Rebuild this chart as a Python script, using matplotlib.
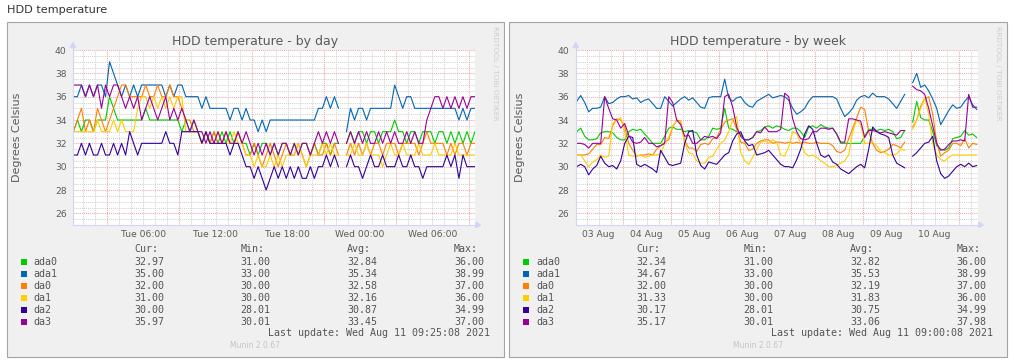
import matplotlib

matplotlib.use("Agg")
import matplotlib.pyplot as plt
import numpy as np
import pandas as pd
from matplotlib.lines import Line2D
from matplotlib.patches import Polygon, Rectangle

W, H = 1014, 364
nan = np.nan

DRIVES = ["ada0", "ada1", "da0", "da1", "da2", "da3"]
COLORS = ["#00cc00", "#0066b3", "#ff8000", "#ffcc00", "#330099", "#990099"]

# ---- by day: one sample every 20 minutes, Tue 00:12 -> Wed 09:32
DAY_TIMES = pd.date_range("2021-08-10 00:12", periods=101, freq="20min")
DAY_ADA0 = [33, 34, 33, 34, 34, 33, 34, 34, 34, 36,
            35, 34, 34, 34, 34, 34, 34, 34, 35, 34,
            34, 34, 34, 34, 34, 34, 34, 33, 34, 33,
            34, 33, 32, 33, 32, 33, 32, 33, 32, 33,
            32, 33, 32, 32, 31, 32, 31, 32, 32, 31,
            32, 31, 32, 32, 31, 32, 31, 32, 32, 31,
            32, 31, 32, 32, 31, 32, 32, nan, 32, 33,
            32, 33, 33, 32, 33, 33, 32, 33, 33, 33,
            34, 33, 33, 32, 33, 33, 32, 33, 33, 33,
            32, 33, 33, 32, 33, 32, 33, 32, 33, 32,
            33]
DAY_ADA1 = [36, 36, 37, 36, 37, 36, 37, 37, 36, 39,
            38, 37, 36, 37, 36, 37, 36, 37, 37, 37,
            37, 37, 37, 36, 37, 36, 37, 37, 36, 36,
            36, 36, 35, 36, 35, 35, 35, 35, 35, 34,
            35, 35, 34, 35, 34, 34, 33, 34, 33, 34,
            34, 34, 34, 34, 34, 34, 34, 34, 34, 34,
            34, 35, 35, 36, 35, 36, 35, nan, 33, 35,
            34, 35, 35, 34, 35, 35, 35, 35, 35, 35,
            37, 36, 35, 36, 36, 35, 35, 35, 35, 35,
            35, 35, 35, 35, 35, 35, 34, 35, 34, 35,
            35]
DAY_DA0 = [33, 34, 35, 33, 34, 33, 35, 34, 33, 34,
           35, 36, 37, 37, 36, 36, 36, 36, 37, 36,
           36, 37, 36, 36, 37, 36, 36, 35, 34, 34,
           33, 33, 32, 33, 32, 33, 32, 32, 33, 32,
           32, 33, 32, 31, 31, 32, 31, 30, 31, 32,
           31, 30, 31, 32, 31, 31, 32, 31, 30, 31,
           32, 31, 31, 32, 31, 32, 31, nan, 31, 32,
           31, 32, 31, 32, 31, 32, 32, 31, 32, 32,
           32, 31, 32, 32, 32, 32, 31, 32, 33, 32,
           32, 32, 32, 31, 32, 31, 32, 32, 31, 32,
           32]
DAY_DA1 = [33, 33, 33, 33, 33, 33, 34, 33, 33, 33,
           34, 33, 34, 33, 33, 33, 35, 36, 36, 35,
           36, 35, 36, 35, 36, 35, 36, 36, 33, 33,
           33, 33, 32, 33, 32, 32, 33, 32, 32, 32,
           33, 32, 32, 31, 31, 30, 31, 30, 30, 31,
           30, 31, 30, 31, 31, 31, 32, 31, 30, 31,
           31, 31, 32, 31, 32, 31, 31, nan, 31, 31,
           32, 31, 31, 32, 31, 31, 31, 30, 31, 32,
           31, 31, 32, 31, 31, 31, 32, 31, 31, 31,
           32, 31, 31, 31, 31, 32, 31, 31, 31, 31,
           31]
DAY_DA2 = [31, 31, 32, 31, 32, 31, 31, 32, 31, 31,
           32, 31, 32, 31, 33, 32, 31, 32, 32, 32,
           32, 32, 32, 33, 32, 32, 31, 33, 33, 33,
           33, 33, 32, 33, 32, 32, 32, 32, 32, 31,
           32, 32, 31, 30, 30, 29, 30, 29, 28, 29,
           30, 29, 30, 29, 30, 29, 30, 29, 29, 30,
           29, 30, 30, 31, 30, 31, 30, nan, 30, 31,
           30, 30, 29, 30, 31, 30, 30, 31, 30, 30,
           30, 31, 30, 30, 31, 30, 30, 29, 30, 30,
           30, 30, 30, 31, 30, 31, 29, 31, 30, 30,
           30]
DAY_DA3 = [37, 37, 37, 36, 37, 36, 37, 35, 37, 36,
           37, 37, 36, 35, 36, 35, 36, 34, 35, 36,
           35, 34, 35, 36, 34, 35, 34, 35, 34, 33,
           34, 33, 33, 32, 33, 32, 33, 32, 33, 32,
           32, 33, 32, 33, 32, 31, 32, 31, 32, 31,
           32, 31, 32, 32, 31, 32, 31, 32, 32, 31,
           32, 33, 32, 33, 32, 33, 32, nan, 32, 33,
           32, 33, 32, 33, 32, 32, 33, 32, 33, 32,
           33, 32, 32, 33, 32, 33, 32, 32, 34, 35,
           36, 36, 35, 36, 35, 36, 35, 36, 35, 36,
           36]

# ---- by week: one sample every 2 hours, 03 Aug 01:00 -> 11 Aug 09:00
WEEK_TIMES = pd.date_range("2021-08-03 01:00", periods=101, freq="2h")
WEEK_ADA0 = [33.0, 33.3, 32.6, 32.3, 32.3, 32.4, 32.9, 33.0, 33.0, 32.9,
             32.5, 32.3, 32.3, 33.0, 33.2, 33.1, 33.2, 32.8, 32.4, 32.0,
             32.0, 32.0, 32.6, 33.3, 33.4, 33.2, 33.2, 33.0, 33.1, 33.0,
             32.9, 32.3, 32.3, 32.6, 33.3, 33.2, 33.3, 35.0, 33.3, 33.2,
             33.0, 32.8, 32.3, 32.3, 32.5, 33.0, 33.1, 33.4, 33.5, 33.3,
             33.5, 33.4, 33.2, 33.1, 33.3, 33.3, 33.0, 32.5, 33.4, 33.5,
             33.3, 33.6, 33.4, 33.3, 33.3, 32.8, 32.0, 32.0, 32.0, 32.0,
             32.0, 32.0, 32.6, 33.2, 33.2, 33.1, 33.2, 33.1, 33.2, 33.0,
             32.4, 32.5, 33.1, nan, 33.8, 35.6, 34.2, 34.0, 34.0, 33.0,
             31.8, 31.5, 31.4, 31.6, 32.4, 32.5, 32.6, 33.1, 32.7, 32.8,
             32.5]
WEEK_ADA1 = [35.6, 36.1, 35.5, 34.7, 35.0, 35.0, 35.1, 36.0, 35.4, 35.5,
             35.8, 36.0, 36.0, 36.1, 35.8, 35.9, 35.5, 35.7, 35.8, 35.4,
             35.0, 35.0, 36.0, 35.6, 35.2, 35.5, 35.8, 36.0, 35.7, 35.9,
             35.5, 35.1, 35.0, 35.9, 36.0, 36.0, 36.0, 37.5, 35.9, 35.6,
             35.9, 36.0, 35.5, 35.2, 35.1, 35.6, 35.8, 36.0, 36.2, 35.9,
             36.0, 36.1, 36.0, 35.7, 35.0, 34.5, 34.7, 35.0, 35.6, 36.0,
             36.0, 36.0, 36.0, 36.0, 36.0, 35.8, 35.0, 34.3, 34.6, 35.0,
             35.7, 36.0, 36.1, 35.9, 36.3, 36.0, 36.0, 36.0, 35.8, 35.4,
             35.0, 35.6, 36.2, nan, 37.2, 38.0, 36.8, 37.0, 36.5, 35.8,
             35.0, 33.6, 34.2, 34.8, 35.3, 35.0, 35.1, 35.6, 36.0, 35.3,
             34.9]
WEEK_DA0 = [31.0, 31.0, 31.0, 31.1, 31.5, 31.9, 31.9, 32.5, 32.4, 33.5,
            34.1, 34.0, 33.4, 32.0, 31.4, 30.9, 31.0, 31.0, 31.1, 31.0,
            31.5, 31.8, 32.1, 32.3, 33.4, 34.0, 33.9, 32.2, 31.6, 31.6,
            31.3, 31.9, 32.0, 31.9, 32.4, 32.5, 33.2, 33.8, 34.0, 34.1,
            33.2, 32.1, 32.0, 31.4, 31.5, 32.0, 32.2, 32.3, 32.3, 32.0,
            32.1, 32.1, 32.0, 32.1, 32.0, 32.1, 32.0, 32.1, 32.0, 32.0,
            32.1, 32.0, 32.0, 32.0, 31.8, 31.3, 31.2, 31.4, 32.4, 33.3,
            34.2, 35.1, 34.9, 33.0, 32.0, 31.4, 31.2, 31.3, 31.5, 31.9,
            31.8, 31.6, 32.1, nan, 33.4, 34.0, 35.2, 35.8, 36.0, 34.5,
            32.1, 30.9, 31.2, 31.4, 32.0, 32.0, 31.8, 32.4, 31.6, 32.0,
            31.9]
WEEK_DA1 = [31.0, 31.0, 30.5, 30.0, 30.4, 30.6, 31.0, 30.8, 30.9, 33.7,
            34.0, 34.2, 33.0, 31.0, 30.9, 30.9, 31.0, 30.8, 30.9, 31.0,
            31.0, 31.1, 32.0, 32.5, 33.5, 33.9, 33.8, 32.0, 31.2, 31.1,
            30.5, 30.3, 30.3, 30.8, 30.9, 31.5, 32.0, 32.3, 33.0, 34.0,
            34.3, 31.2, 30.5, 30.2, 30.8, 31.5, 32.1, 32.2, 32.0, 32.3,
            32.1, 31.0, 30.9, 31.7, 33.0, 32.8, 32.0, 31.2, 30.9, 31.0,
            30.8, 30.5, 30.3, 30.0, 30.0, 30.1, 30.3, 30.5, 31.0, 33.0,
            34.0, 33.6, 32.0, 32.0, 32.1, 31.8, 31.3, 31.2, 31.0, 31.0,
            31.1, 31.5, 31.4, nan, 33.2, 34.0, 35.0, 35.9, 34.5, 32.0,
            31.0, 30.6, 30.5, 30.8, 31.0, 31.0, 31.0, 31.0, 31.0, 31.0,
            31.0]
WEEK_DA2 = [30.0, 30.2, 30.0, 29.3, 29.8, 30.1, 30.9, 30.3, 30.0, 30.1,
            29.8, 30.5, 32.0, 32.6, 32.5, 30.2, 30.0, 30.2, 30.0, 29.8,
            29.5, 31.4, 30.8, 30.2, 30.1, 30.2, 30.3, 32.0, 33.0, 33.1,
            31.0, 30.1, 29.8, 30.4, 30.3, 30.2, 30.6, 31.0, 31.2, 32.2,
            32.8, 33.0, 32.2, 31.8, 31.9, 31.0, 31.1, 31.2, 31.4, 31.0,
            30.6, 30.2, 30.0, 30.0, 29.9, 30.6, 31.5, 32.8, 33.5, 33.2,
            32.0, 31.0, 30.8, 31.0, 30.4, 30.2, 29.8, 29.6, 29.4, 29.7,
            30.0, 30.2, 29.9, 31.5, 33.4, 33.0, 32.8, 32.7, 32.5, 31.0,
            30.3, 30.1, 29.9, nan, 30.9, 31.2, 31.6, 32.0, 32.1, 32.6,
            30.5, 29.4, 29.0, 29.2, 29.6, 30.0, 30.2, 30.0, 30.3, 30.0,
            30.1]
WEEK_DA3 = [32.0, 32.0, 31.9, 31.6, 32.0, 32.0, 32.0, 36.0, 35.0, 34.1,
            34.0, 33.3, 33.7, 32.7, 32.1, 32.0, 32.1, 32.5, 32.0, 32.0,
            31.7, 31.8, 32.0, 36.0, 35.5, 34.0, 33.6, 32.6, 32.7, 32.0,
            32.0, 32.3, 32.6, 32.5, 32.6, 32.4, 32.9, 36.0, 36.2, 35.1,
            33.4, 32.6, 32.3, 32.3, 32.5, 33.0, 32.9, 33.4, 33.0, 33.0,
            33.0, 33.2, 36.3, 36.0, 34.1, 33.0, 32.4, 32.3, 32.4, 33.0,
            33.0, 33.3, 33.3, 33.2, 33.3, 32.8, 32.1, 32.1, 34.1, 34.1,
            34.0, 33.9, 32.5, 33.1, 33.1, 33.0, 32.9, 33.0, 32.9, 32.8,
            32.7, 33.1, 33.1, nan, 36.9, 36.6, 36.5, 36.2, 35.0, 33.5,
            32.0, 31.4, 31.5, 31.9, 32.2, 32.2, 32.3, 32.2, 36.2, 35.1,
            35.1]

# legend statistics (Cur, Min, Avg, Max) per drive
DAY_CUR = [32.97, 35.00, 32.00, 31.00, 30.00, 35.97]
DAY_MIN = [31.00, 33.00, 30.00, 30.00, 28.01, 30.01]
DAY_AVG = [32.84, 35.34, 32.58, 32.16, 30.87, 33.45]
DAY_MAX = [36.00, 38.99, 37.00, 36.00, 34.99, 37.00]
WEEK_CUR = [32.34, 34.67, 32.00, 31.33, 30.17, 35.17]
WEEK_MIN = [31.00, 33.00, 30.00, 30.00, 28.01, 30.01]
WEEK_AVG = [32.82, 35.53, 32.19, 31.83, 30.75, 33.06]
WEEK_MAX = [36.00, 38.99, 37.00, 36.00, 34.99, 37.98]

DAY_TICKS = ["2021-08-10 06:00", "2021-08-10 12:00", "2021-08-10 18:00",
             "2021-08-11 00:00", "2021-08-11 06:00"]
DAY_TICK_LABELS = ["Tue 06:00", "Tue 12:00", "Tue 18:00", "Wed 00:00", "Wed 06:00"]
WEEK_TICKS = [f"2021-08-{d:02d} 12:00" for d in range(3, 11)]
WEEK_TICK_LABELS = [f"{d:02d} Aug" for d in range(3, 11)]

FONT = "#5a5a5a"
AXIS = "#cfd6f8"
MINOR_GRID = "#d2d2d2"
MAJOR_GRID = "#eca6a6"


def fig_line(fig, xs, ys, **kw):
    fig.add_artist(Line2D([x / W for x in xs], [1 - y / H for y in ys],
                          transform=fig.transFigure, **kw))


def draw_panel(fig, left, times, series, xlim, ticks, tick_labels,
               vgrid, title, stats, updated):
    # panel background (munin graph image)
    fig.add_artist(Rectangle((left / W, 1 - 357 / H), 497.5 / W, 335 / H,
                             transform=fig.transFigure, facecolor="#f0f0f0",
                             edgecolor="#a3a3a3", lw=0.8, zorder=-1))
    plot_left = left + 66.5
    ax = fig.add_axes([plot_left / W, 1 - 225 / H, 402 / W, 175 / H])
    ax.set_facecolor("white")
    for s in ax.spines.values():
        s.set_visible(False)

    # grid
    for y in np.arange(25.5, 40.01, 0.5):
        major = y % 2 == 0
        ax.axhline(y, color=MAJOR_GRID if major else MINOR_GRID, lw=0.75,
                   ls=(0, (1, 1)), zorder=1)
    for t, major in vgrid:
        ax.axvline(pd.Timestamp(t), color=MAJOR_GRID if major else MINOR_GRID,
                   lw=0.75, ls=(0, (1, 1)), zorder=1)

    for vals, color in zip(series, COLORS):
        ax.plot(times, vals, color=color, lw=0.8, zorder=2)

    ax.set_xlim(pd.Timestamp(xlim[0]), pd.Timestamp(xlim[1]))
    ax.set_ylim(25, 40)
    ax.set_yticks(range(26, 41, 2))
    ax.set_xticks([pd.Timestamp(t) for t in ticks], labels=tick_labels)
    ax.tick_params(length=0, labelsize=6.6, colors=FONT)
    ax.tick_params(axis="x", pad=3.6)
    ax.tick_params(axis="y", pad=4.6)

    # axis lines + arrows
    fig_line(fig, [plot_left, plot_left], [225, 47], color=AXIS, lw=0.8, zorder=3)
    fig_line(fig, [plot_left, plot_left + 404], [225, 225], color=AXIS, lw=0.8, zorder=3)
    fig.add_artist(Polygon([((plot_left - 2.5) / W, 1 - 47.5 / H),
                            ((plot_left + 2.5) / W, 1 - 47.5 / H),
                            (plot_left / W, 1 - 42.5 / H)],
                           transform=fig.transFigure, color=AXIS, zorder=3))
    fig.add_artist(Polygon([((plot_left + 403) / W, 1 - 222.3 / H),
                            ((plot_left + 403) / W, 1 - 227.7 / H),
                            ((plot_left + 407.5) / W, 1 - 225 / H)],
                           transform=fig.transFigure, color=AXIS, zorder=3))

    fig.text((left + 248.5) / W, 1 - 41.5 / H, title, ha="center", va="center",
             fontsize=9, color="#595959")
    fig.text((left + 11) / W, 1 - 137.5 / H, "Degrees Celsius", rotation=90,
             ha="center", va="center", fontsize=8, color="#595959")
    fig.text((left + 488.5) / W, 1 - 26 / H, "RRDTOOL / TOBI OETIKER",
             rotation=270, ha="center", va="top", fontsize=5.3, color="#cccccc")

    # legend
    mono = dict(family="DejaVu Sans Mono", fontsize=7.2, color="#555555", va="center")
    cols = [127.5, 234.2, 340.8, 447.5]
    for cx, head in zip(cols, ["Cur:", "Min:", "Avg:", "Max:"]):
        fig.text((left + cx) / W, 1 - 249.3 / H, head, **mono)
    for k, (name, color) in enumerate(zip(DRIVES, COLORS)):
        ry = 261.7 + 12 * k
        fig.add_artist(Rectangle(((left + 14.2) / W, 1 - (ry + 3) / H), 6 / W, 6 / H,
                                 transform=fig.transFigure, facecolor=color,
                                 edgecolor="none", zorder=3))
        fig.text((left + 26.8) / W, 1 - ry / H, name, **mono)
        for cx, col in zip(cols, stats):
            fig.text((left + cx) / W, 1 - ry / H, f"{col[k]:.2f}", **mono)
    fig.text((left + 261.8) / W, 1 - 333.3 / H, f"Last update: {updated}", **mono)
    fig.text((left + 248.5) / W, 1 - 346 / H, "Munin 2.0.67", ha="center",
             va="center", fontsize=5.5, color="#c4c4c4")
    return ax


fig = plt.figure(figsize=(W / 100, H / 100), dpi=100)
fig.patch.set_facecolor("white")
fig.text(7 / W, 1 - 10 / H, "HDD temperature", fontsize=8.1, color="#333333",
         va="center")

day_vgrid = [(t, t.hour % 6 == 3)
             for t in pd.date_range("2021-08-10 01:00", "2021-08-11 09:00", freq="1h")]
draw_panel(fig, 6.5, DAY_TIMES,
           [DAY_ADA0, DAY_ADA1, DAY_DA0, DAY_DA1, DAY_DA2, DAY_DA3],
           ("2021-08-10 00:10", "2021-08-11 09:32"), DAY_TICKS, DAY_TICK_LABELS,
           day_vgrid, "HDD temperature - by day",
           [DAY_CUR, DAY_MIN, DAY_AVG, DAY_MAX], "Wed Aug 11 09:25:08 2021")

week_vgrid = [(t, t.hour == 0)
              for t in pd.date_range("2021-08-03 06:00", "2021-08-11 06:00", freq="6h")]
draw_panel(fig, 509.2, WEEK_TIMES,
           [WEEK_ADA0, WEEK_ADA1, WEEK_DA0, WEEK_DA1, WEEK_DA2, WEEK_DA3],
           ("2021-08-03 00:30", "2021-08-11 09:30"), WEEK_TICKS, WEEK_TICK_LABELS,
           week_vgrid, "HDD temperature - by week",
           [WEEK_CUR, WEEK_MIN, WEEK_AVG, WEEK_MAX], "Wed Aug 11 09:00:08 2021")

fig.savefig("out.png", dpi=100, facecolor="white")
